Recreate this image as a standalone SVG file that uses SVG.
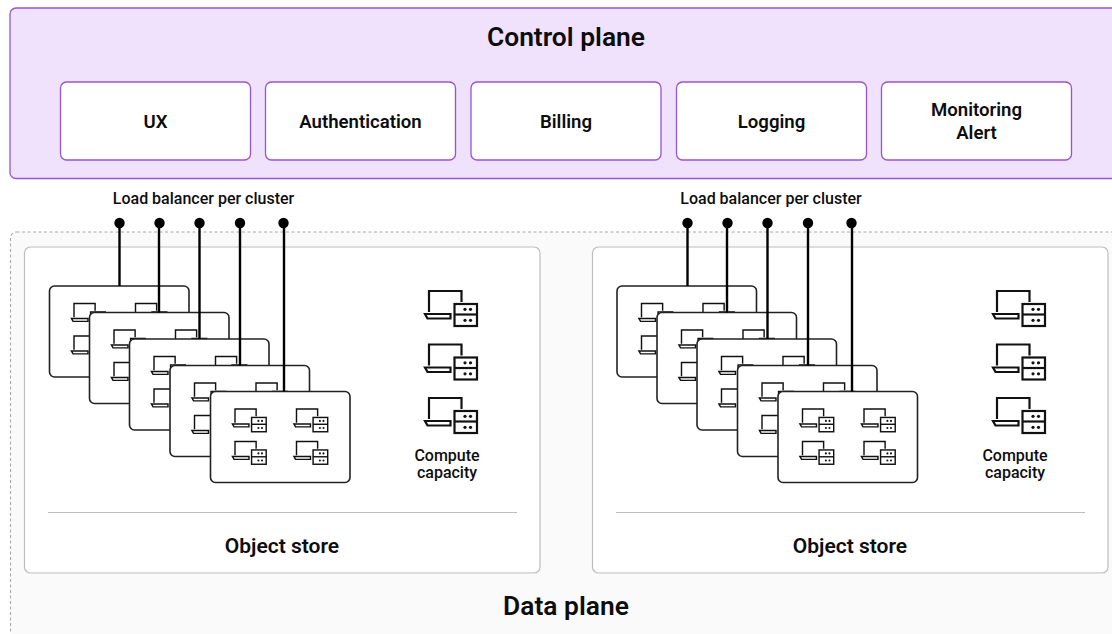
<svg xmlns="http://www.w3.org/2000/svg" width="1112" height="634" viewBox="0 0 1112 634">
<style>
text{font-family:Roboto,"Liberation Sans",sans-serif;fill:#0d0d0d;text-anchor:middle}
.h{font-size:26.400px;font-weight:600}
.b{font-size:18.600px;font-weight:600}
.o{font-size:21px;font-weight:600}
.s{font-size:16px;font-weight:500}
.svc{fill:#fff;stroke:#9554d6;stroke-width:1.300}
.card{fill:#fff;stroke:#222;stroke-width:1.600}
.store{fill:#fff;stroke:#bdbdbd;stroke-width:1.200}
.div{stroke:#bdbdbd;stroke-width:1.200}
.wire{stroke:#000;stroke-width:2.400;fill:none}
.dot{fill:#000}
.ic{fill:none;stroke:#111;stroke-width:2.200}
.ib{fill:#fff;stroke:#111;stroke-width:2.200}
.id{fill:#111}
</style>
<defs>
<g id="icon">
<path class="ic" d="M0 21V0H32.500V11"/>
<path class="ib" d="M-4 23H21.500V27.500H-1.500Z"/>
<rect class="ib" x="25.500" y="13" width="22.500" height="22"/>
<path class="ic" d="M25.500 23.500H48"/>
<g class="id"><circle cx="36" cy="18.300" r="1.600"/><circle cx="41.500" cy="18.300" r="1.600"/><circle cx="36" cy="29.300" r="1.600"/><circle cx="41.500" cy="29.300" r="1.600"/></g>
</g>
<g id="cardicons">
<rect class="card" x="0" y="0" width="139.500" height="91" rx="5"/>
<use href="#icon" transform="translate(24.500 17.500) scale(.65)"/>
<use href="#icon" transform="translate(86 17.500) scale(.65)"/>
<use href="#icon" transform="translate(24.500 50) scale(.65)"/>
<use href="#icon" transform="translate(86 50) scale(.65)"/>
</g>
</defs>
<rect width="1112" height="634" fill="#fff"/>
<g id="control-plane">
<rect x="10" y="8" width="1120" height="170.500" rx="6" fill="#f0e1fd" stroke="#9554d6" stroke-width="1.300"/>
<text class="h" x="566" y="46">Control plane</text>
</g>
<g id="ux"><rect class="svc" x="60.500" y="82" width="190" height="78" rx="6"/><text class="b" x="155.500" y="127.500">UX</text></g>
<g id="authentication"><rect class="svc" x="265.500" y="82" width="190" height="78" rx="6"/><text class="b" x="360.500" y="127.500">Authentication</text></g>
<g id="billing"><rect class="svc" x="471" y="82" width="190" height="78" rx="6"/><text class="b" x="566" y="127.500">Billing</text></g>
<g id="logging"><rect class="svc" x="676.500" y="82" width="190" height="78" rx="6"/><text class="b" x="771.500" y="127.500">Logging</text></g>
<g id="monitoring"><rect class="svc" x="881.500" y="82" width="190" height="78" rx="6"/><text class="b" x="976.500" y="115.500">Monitoring</text><text class="b" x="976.500" y="139">Alert</text></g>
<g id="data-plane">
<rect x="10.500" y="232" width="1130" height="430" rx="6" fill="#fafafa" stroke="#a8a8a8" stroke-width="1.100" stroke-dasharray="3 2.500"/>
<text class="h" x="566" y="615">Data plane</text>
</g>
<g id="cluster-store-1">
<rect class="store" x="24.500" y="247" width="515.500" height="326" rx="6"/>
<path class="div" d="M48 512.500H517"/>
<text class="o" x="282" y="552.500">Object store</text>
</g>
<g id="cluster-store-2">
<rect class="store" x="592.500" y="247" width="515.500" height="326" rx="6"/>
<path class="div" d="M616 512.500H1085"/>
<text class="o" x="850" y="552.500">Object store</text>
</g>
<g id="lb-label-1"><text class="s" x="203.500" y="204">Load balancer per cluster</text></g>
<g id="lb-label-2"><text class="s" x="771" y="204">Load balancer per cluster</text></g>
<g id="cluster-cards-1">
<use href="#cardicons" x="49.500" y="286"/>
<use href="#cardicons" x="89.500" y="312.500"/>
<use href="#cardicons" x="129.500" y="339"/>
<use href="#cardicons" x="170" y="365.500"/>
<use href="#cardicons" x="210.500" y="391.500"/>
</g>
<g id="cluster-cards-2">
<use href="#cardicons" x="617" y="286"/>
<use href="#cardicons" x="657" y="312.500"/>
<use href="#cardicons" x="697" y="339"/>
<use href="#cardicons" x="737.500" y="365.500"/>
<use href="#cardicons" x="778" y="391.500"/>
</g>
<g id="connectors">
<path class="wire" d="M119.500 223V286M159 223V312.500M199.500 223V339M240 223V365.500M284 223V391.500"/>
<path class="wire" d="M687.500 223V286M727 223V312.500M767.500 223V339M808 223V365.500M852 223V391.500"/>
<g class="dot"><circle cx="119.500" cy="223" r="5.200"/><circle cx="159.500" cy="223" r="5.200"/><circle cx="199.500" cy="223" r="5.200"/><circle cx="240" cy="223" r="5.200"/><circle cx="283.500" cy="223" r="5.200"/>
<circle cx="687.500" cy="223" r="5.200"/><circle cx="727.500" cy="223" r="5.200"/><circle cx="767.500" cy="223" r="5.200"/><circle cx="808" cy="223" r="5.200"/><circle cx="851.500" cy="223" r="5.200"/></g>
</g>
<g id="compute-1">
<use href="#icon" x="429" y="291"/><use href="#icon" x="429" y="344.500"/><use href="#icon" x="429" y="398"/>
<text class="s" x="447" y="461">Compute</text><text class="s" x="447" y="478">capacity</text>
</g>
<g id="compute-2">
<use href="#icon" x="997" y="291"/><use href="#icon" x="997" y="344.500"/><use href="#icon" x="997" y="398"/>
<text class="s" x="1015" y="461">Compute</text><text class="s" x="1015" y="478">capacity</text>
</g>
</svg>
